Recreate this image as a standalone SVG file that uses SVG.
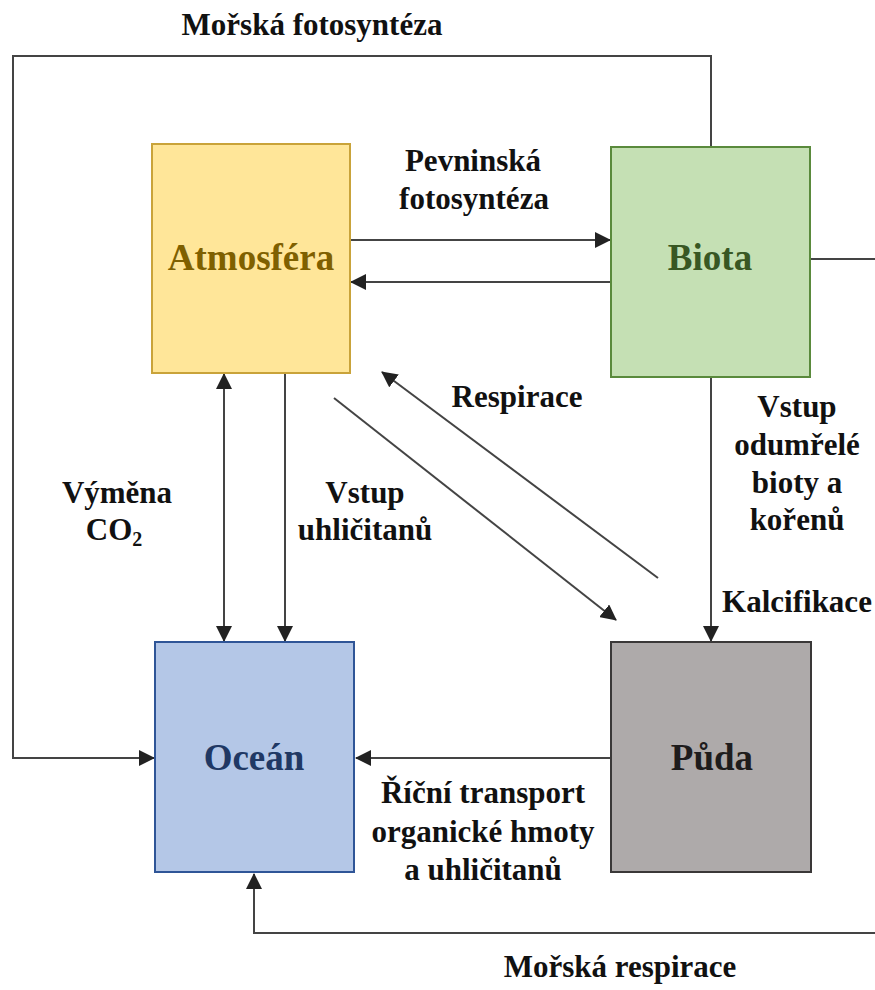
<svg xmlns="http://www.w3.org/2000/svg" width="875" height="990" viewBox="0 0 875 990">
<style>
.box{stroke-width:2}
.bl{font-family:"Liberation Serif","Times New Roman",serif;font-weight:bold;font-size:37px;text-anchor:middle}
.lb{font-family:"Liberation Serif","Times New Roman",serif;font-weight:bold;font-size:31px;fill:#111;text-anchor:middle}
.cn{fill:none;stroke:#444;stroke-width:2}
</style>
<defs>
<marker id="ah" markerUnits="userSpaceOnUse" markerWidth="16" markerHeight="16" viewBox="0 0 16 16" refX="15" refY="8" orient="auto-start-reverse">
<path d="M0,0 L16,8 L0,16 z" fill="#222"/>
</marker>
</defs>
<rect width="875" height="990" fill="#fff"/>
<g id="connectors">
<path class="cn" d="M711,147 V56 H13 V758 H154" marker-end="url(#ah)"/>
<path class="cn" d="M351,240 H610" marker-end="url(#ah)"/>
<path class="cn" d="M610,282 H351" marker-end="url(#ah)"/>
<path class="cn" d="M224,374 V641" marker-start="url(#ah)" marker-end="url(#ah)"/>
<path class="cn" d="M285,374 V641" marker-end="url(#ah)"/>
<path class="cn" d="M658,578 L382,372" marker-end="url(#ah)"/>
<path class="cn" d="M334,398 L616,620" marker-end="url(#ah)"/>
<path class="cn" d="M711,377 V641" marker-end="url(#ah)"/>
<path class="cn" d="M611,758 H356" marker-end="url(#ah)"/>
<path class="cn" d="M811,259 H890 V933 H254 V874" marker-end="url(#ah)"/>
</g>
<g id="atmosfera">
<rect class="box" x="152" y="144" width="198" height="229" fill="#FFE699" stroke="#C9A33A"/>
<text class="bl" x="251" y="270" fill="#7F6000">Atmosféra</text>
</g>
<g id="biota">
<rect class="box" x="611" y="147" width="199" height="230" fill="#C5E0B4" stroke="#5A8A3C"/>
<text class="bl" x="710" y="270" fill="#385723">Biota</text>
</g>
<g id="ocean">
<rect class="box" x="155" y="642" width="199" height="230" fill="#B4C7E7" stroke="#2F5597"/>
<text class="bl" x="254" y="770" fill="#203864">Oceán</text>
</g>
<g id="puda">
<rect class="box" x="611" y="642" width="200" height="230" fill="#AEAAAA" stroke="#3A3838"/>
<text class="bl" x="712" y="770" fill="#1E1C1C">Půda</text>
</g>
<g id="labels">
<text class="lb" x="312" y="35">Mořská fotosyntéza</text>
<text class="lb" x="473" y="171">Pevninská</text>
<text class="lb" x="474" y="209">fotosyntéza</text>
<text class="lb" x="517" y="407">Respirace</text>
<text class="lb" x="117" y="503">Výměna</text>
<text class="lb" x="114" y="540">CO<tspan font-size="20" dy="6">2</tspan></text>
<text class="lb" x="365" y="503">Vstup</text>
<text class="lb" x="365" y="540">uhličitanů</text>
<text class="lb" x="797" y="417">Vstup</text>
<text class="lb" x="797" y="455">odumřelé</text>
<text class="lb" x="797" y="493">bioty a</text>
<text class="lb" x="797" y="530">kořenů</text>
<text class="lb" x="797" y="612">Kalcifikace</text>
<text class="lb" x="483" y="803">Říční transport</text>
<text class="lb" x="483" y="842">organické hmoty</text>
<text class="lb" x="483" y="880">a uhličitanů</text>
<text class="lb" x="620" y="977">Mořská respirace</text>
</g>
</svg>
